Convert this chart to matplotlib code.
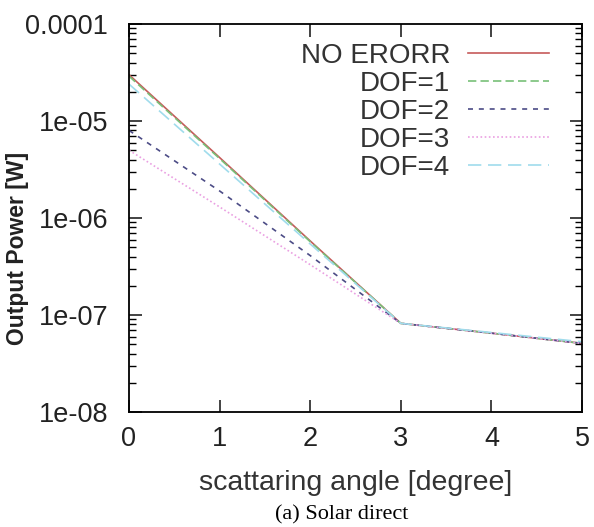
import numpy as np
import matplotlib
matplotlib.use("Agg")
import matplotlib.pyplot as plt
from matplotlib.ticker import LogLocator, NullFormatter, FixedLocator

angle = [0, 1, 2, 3, 4, 5]
no_error = [3.0e-05, 4.2e-06, 5.8e-07, 8.2e-08, 6.5e-08, 5.1e-08]
dof1 = [2.9e-05, 4.1e-06, 5.7e-07, 8.2e-08, 6.5e-08, 5.1e-08]
dof2 = [8.0e-06, 1.9e-06, 4.1e-07, 8.2e-08, 6.5e-08, 5.1e-08]
dof3 = [5.0e-06, 1.3e-06, 3.3e-07, 8.2e-08, 6.5e-08, 5.1e-08]
dof4 = [2.4e-05, 3.6e-06, 5.4e-07, 8.2e-08, 6.6e-08, 5.3e-08]

labels = ["NO ERORR", "DOF=1", "DOF=2", "DOF=3", "DOF=4"]
colors = ["#c65a5a", "#78c078", "#4c4c86", "#eaa0e2", "#a0dcec"]
styles = ["-", (0, (5, 2.5)), (0, (3, 3.5)), (0, (1, 1.5)), (0, (8, 4))]

plt.rcParams['font.family'] = ['Liberation Sans', 'DejaVu Sans']

fig = plt.figure(figsize=(5.94, 5.27), dpi=100)
ax = fig.add_axes([129 / 594, 1 - 412 / 527, 453 / 594, 388 / 527])

series = [no_error, dof1, dof2, dof3, dof4]
for vals, lab, c, ls in zip(series, labels, colors, styles):
    ax.plot(angle, vals, color=c, linestyle=ls, linewidth=1.2, label=lab)

ax.set_yscale('log')
ax.set_xlim(0, 5)
ax.set_ylim(1e-08, 1e-04)
ax.xaxis.set_major_locator(FixedLocator([0, 1, 2, 3, 4, 5]))
ax.set_yticks([1e-08, 1e-07, 1e-06, 1e-05, 1e-04])
ax.set_yticklabels(["1e-08", "1e-07", "1e-06", "1e-05", "0.0001"])
ax.yaxis.set_minor_locator(LogLocator(base=10, subs=np.arange(2, 10)))
ax.yaxis.set_minor_formatter(NullFormatter())
ax.tick_params(which='major', direction='in', length=9, width=1.2,
               top=True, right=True, labelsize=19.5, colors='#222222')
ax.tick_params(which='minor', direction='in', length=5, width=1.0,
               top=True, right=True)
ax.tick_params(axis='x', pad=10)
ax.tick_params(axis='y', pad=15)
for sp in ax.spines.values():
    sp.set_linewidth(1.3)

ax.set_xlabel("scattaring angle [degree]", fontsize=20.5, color='#333333')
ax.xaxis.label.set_va('center')
ax.xaxis.set_label_coords(0.5, (412 - 483) / 388)

fig.text(18 / 594, 1 - 248 / 527, "Output Power [W]", fontsize=16.5,
         fontweight='bold', rotation=90, ha='center', va='center',
         color='#222222')

leg = ax.legend(loc='upper right', frameon=False, markerfirst=False,
                fontsize=20, handlelength=2.9, labelspacing=0.07,
                handletextpad=0.65, borderaxespad=0,
                bbox_to_anchor=(560 / 594, 495 / 527),
                bbox_transform=fig.transFigure)
for t in leg.get_texts():
    t.set_ha('right')
    t.set_color('#333333')
leg._legend_box.align = "right"

fig.text(342 / 594, 1 - 515 / 527, "(a) Solar direct", fontsize=16,
         family=['Liberation Serif', 'DejaVu Serif'], ha='center', va='center')

fig.savefig("out.png", dpi=100)
